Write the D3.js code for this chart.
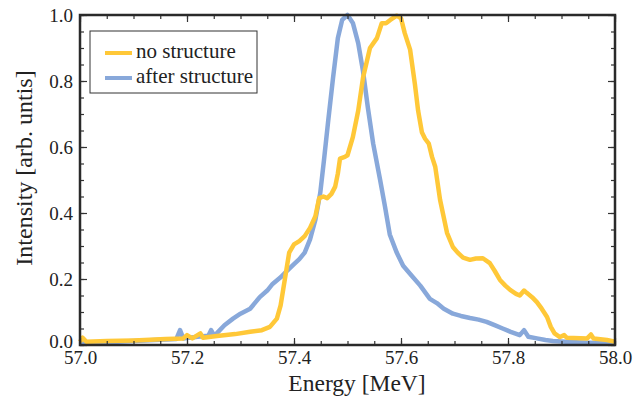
<!DOCTYPE html>
<html>
<head>
<meta charset="utf-8">
<script src="https://cdn.jsdelivr.net/npm/d3@7"></script>
<style>
  html, body { margin: 0; padding: 0; background: #fff; }
  svg text { font-family: "Liberation Serif", "DejaVu Serif", serif !important; fill: #222; }
</style>
</head>
<body>
<svg id="chart" width="644" height="396"></svg>
<script>
// "no structure" spectrum
const energyNo = [57.000, 57.005, 57.012, 57.05, 57.10, 57.131, 57.16, 57.193, 57.20, 57.21, 57.225, 57.23,
  57.256, 57.29, 57.318, 57.34, 57.355, 57.368, 57.375, 57.380, 57.385, 57.391, 57.400, 57.410, 57.420,
  57.430, 57.440, 57.447, 57.455, 57.462, 57.470, 57.477, 57.482, 57.486, 57.495, 57.500, 57.510, 57.520,
  57.529, 57.542, 57.555, 57.564, 57.572, 57.580, 57.592, 57.600, 57.607, 57.617, 57.626, 57.632, 57.639,
  57.645, 57.652, 57.658, 57.664, 57.673, 57.686, 57.697, 57.706, 57.716, 57.729, 57.740, 57.753, 57.766,
  57.775, 57.785, 57.795, 57.804, 57.815, 57.822, 57.830, 57.835, 57.845, 57.854, 57.863, 57.873, 57.880,
  57.887, 57.897, 57.905, 57.910, 57.948, 57.955, 57.960, 57.985, 58.000];
const intensityNo = [0.010, 0.022, 0.010, 0.012, 0.014, 0.016, 0.018, 0.020, 0.030, 0.020, 0.035, 0.022,
  0.027, 0.033, 0.040, 0.045, 0.055, 0.080, 0.120, 0.170, 0.220, 0.280, 0.305, 0.315, 0.330,
  0.355, 0.390, 0.445, 0.450, 0.445, 0.458, 0.480, 0.520, 0.565, 0.570, 0.575, 0.630, 0.710,
  0.810, 0.900, 0.930, 0.975, 0.975, 0.985, 0.998, 0.990, 0.945, 0.895, 0.790, 0.710, 0.645,
  0.625, 0.610, 0.570, 0.540, 0.440, 0.340, 0.297, 0.280, 0.265, 0.258, 0.262, 0.263, 0.248,
  0.225, 0.197, 0.180, 0.167, 0.155, 0.150, 0.165, 0.158, 0.145, 0.130, 0.110, 0.085, 0.055,
  0.035, 0.024, 0.030, 0.022, 0.020, 0.032, 0.020, 0.015, 0.010];

// "after structure" spectrum
const energyAfter = [57.000, 57.05, 57.10, 57.15, 57.180, 57.187, 57.193, 57.22, 57.240, 57.245, 57.250,
  57.256, 57.270, 57.286, 57.300, 57.318, 57.336, 57.350, 57.360, 57.375, 57.387, 57.400, 57.410, 57.420,
  57.430, 57.440, 57.449, 57.456, 57.464, 57.473, 57.482, 57.490, 57.500, 57.510, 57.520, 57.529, 57.538,
  57.548, 57.561, 57.570, 57.579, 57.592, 57.604, 57.620, 57.636, 57.654, 57.667, 57.680, 57.697, 57.712,
  57.729, 57.745, 57.760, 57.775, 57.790, 57.805, 57.822, 57.830, 57.838, 57.854, 57.870, 57.884, 57.916,
  57.950, 58.000];
const intensityAfter = [0.005, 0.008, 0.012, 0.016, 0.018, 0.045, 0.020, 0.025, 0.028, 0.045, 0.030,
  0.036, 0.060, 0.080, 0.095, 0.110, 0.145, 0.165, 0.185, 0.205, 0.225, 0.245, 0.260, 0.280,
  0.320, 0.380, 0.460, 0.560, 0.680, 0.810, 0.930, 0.985, 1.000, 0.976, 0.915, 0.830, 0.720,
  0.610, 0.500, 0.420, 0.335, 0.280, 0.240, 0.210, 0.180, 0.140, 0.127, 0.110, 0.095, 0.088,
  0.082, 0.077, 0.070, 0.060, 0.050, 0.040, 0.030, 0.045, 0.025, 0.020, 0.015, 0.012, 0.009,
  0.007, 0.005];

const xTicks = [57.0, 57.2, 57.4, 57.6, 57.8, 58.0];
const yTicks = [0.0, 0.2, 0.4, 0.6, 0.8, 1.0];
const seriesNames = ['no structure', 'after structure'];
const seriesColors = ['#ffc838', '#88a8da'];

const svg = d3.select('#chart');
const margin = { top: 15, right: 29, bottom: 51, left: 80 };
const width = 644, height = 396;

const x = d3.scaleLinear().domain([57.0, 58.0]).range([margin.left, width - margin.right]);
const y = d3.scaleLinear().domain([0, 1]).range([height - margin.bottom, margin.top]);

const minorX = d3.range(57.0, 58.001, 0.05);
const minorY = d3.range(0, 1.001, 0.05);

// curves
const line = d3.line().x(d => x(d[0])).y(d => y(d[1]));
const dataNo = energyNo.map((e, i) => [e, intensityNo[i]]);
const dataAfter = energyAfter.map((e, i) => [e, intensityAfter[i]]);

svg.append('path').datum(dataAfter)
  .attr('d', line).attr('fill', 'none')
  .attr('stroke', seriesColors[1]).attr('stroke-width', 4.5)
  .attr('stroke-linejoin', 'round');
svg.append('path').datum(dataNo)
  .attr('d', line).attr('fill', 'none')
  .attr('stroke', seriesColors[0]).attr('stroke-width', 4.5)
  .attr('stroke-linejoin', 'round');

// ticks on all four sides, pointing inward
function styleAxis(g) {
  g.select('.domain').remove();
  g.selectAll('.tick line').attr('stroke', '#333').attr('stroke-width', 1.2);
}
const bottomY = height - margin.bottom, topY = margin.top;
const leftX = margin.left, rightX = width - margin.right;

svg.append('g').attr('transform', `translate(0,${bottomY})`)
  .call(d3.axisBottom(x).tickValues(minorX).tickSize(-4).tickFormat(''))
  .call(styleAxis);
svg.append('g').attr('transform', `translate(0,${topY})`)
  .call(d3.axisTop(x).tickValues(minorX).tickSize(-4).tickFormat(''))
  .call(styleAxis);
svg.append('g').attr('transform', `translate(${leftX},0)`)
  .call(d3.axisLeft(y).tickValues(minorY).tickSize(-4).tickFormat(''))
  .call(styleAxis);
svg.append('g').attr('transform', `translate(${rightX},0)`)
  .call(d3.axisRight(y).tickValues(minorY).tickSize(-4).tickFormat(''))
  .call(styleAxis);

const xAxis = svg.append('g').attr('transform', `translate(0,${bottomY})`)
  .call(d3.axisBottom(x).tickValues(xTicks).tickSize(-7).tickPadding(6).tickFormat(d3.format('.1f')))
  .call(styleAxis);
svg.append('g').attr('transform', `translate(0,${topY})`)
  .call(d3.axisTop(x).tickValues(xTicks).tickSize(-7).tickFormat(''))
  .call(styleAxis);
const yAxis = svg.append('g').attr('transform', `translate(${leftX},0)`)
  .call(d3.axisLeft(y).tickValues(yTicks).tickSize(-7).tickPadding(7).tickFormat(d3.format('.1f')))
  .call(styleAxis);
svg.append('g').attr('transform', `translate(${rightX},0)`)
  .call(d3.axisRight(y).tickValues(yTicks).tickSize(-7).tickFormat(''))
  .call(styleAxis);

xAxis.selectAll('text').attr('font-size', 19).attr('fill', '#222');
yAxis.selectAll('text').attr('font-size', 19).attr('fill', '#222');
// lift the "0.0" label a little so it clears "57.0"
yAxis.selectAll('.tick').filter(d => d === 0).select('text').attr('dy', '0.12em');

// frame
svg.append('rect')
  .attr('x', leftX).attr('y', topY)
  .attr('width', rightX - leftX).attr('height', bottomY - topY)
  .attr('fill', 'none').attr('stroke', '#2a2a2a').attr('stroke-width', 2.5);

// axis titles
svg.append('text')
  .attr('x', 357).attr('y', 391)
  .attr('text-anchor', 'middle').attr('font-size', 23.5)
  .text('Energy [MeV]');
svg.append('text')
  .attr('transform', 'translate(32,168) rotate(-90)')
  .attr('text-anchor', 'middle').attr('font-size', 24)
  .text('Intensity [arb. untis]');

// legend
const legend = svg.append('g');
legend.append('rect')
  .attr('x', 90).attr('y', 31).attr('width', 167).attr('height', 62)
  .attr('fill', '#fff').attr('stroke', '#333').attr('stroke-width', 1);
seriesNames.forEach((name, i) => {
  const ly = 53 + i * 25;
  legend.append('line')
    .attr('x1', 105).attr('x2', 132).attr('y1', ly).attr('y2', ly)
    .attr('stroke', seriesColors[i]).attr('stroke-width', 4);
  legend.append('text')
    .attr('x', 136).attr('y', ly + 5).attr('font-size', 21)
    .text(name);
});
</script>
</body>
</html>
